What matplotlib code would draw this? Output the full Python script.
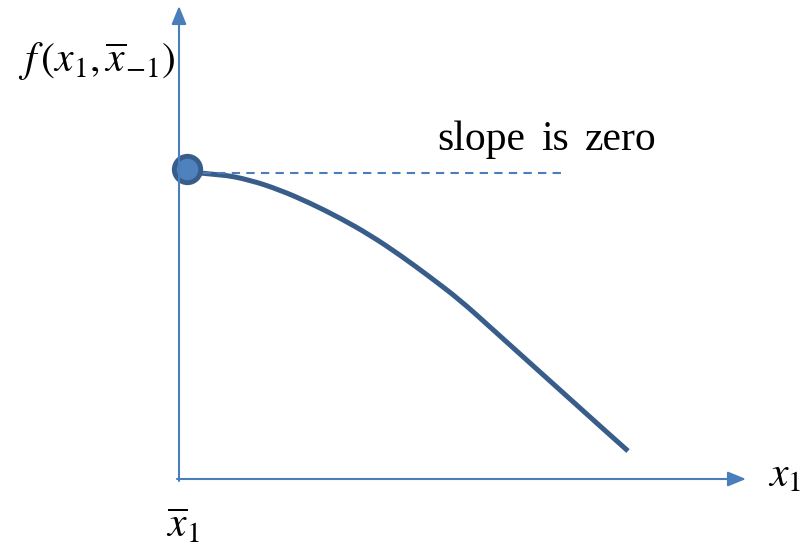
import numpy as np
import matplotlib.pyplot as plt
from matplotlib.path import Path
from matplotlib.patches import PathPatch

plt.rcParams['mathtext.fontset'] = 'stix'
plt.rcParams['font.family'] = ['Liberation Serif', 'DejaVu Serif']

# curve (pixel coordinates, y downwards)
curve_x = [184, 220, 250, 280, 310, 340, 370, 400, 430, 460, 490, 520, 550, 580, 610, 628]
curve_y = [172, 174, 180, 190, 203, 218, 235, 255, 277, 300, 327, 354, 381, 408, 435, 451]
point = (187, 169)
flat_x = [188, 567]
flat_y = [173, 173]

fig = plt.figure(figsize=(8.01, 5.5), dpi=100)
ax = fig.add_axes([0, 0, 1, 1])
ax.set_xlim(0, 801)
ax.set_ylim(550, 0)
ax.axis('off')

axis_col = '#4a7ebb'
line_col = '#385d8a'

# axes with arrow heads
ax.annotate('', xy=(179, 6), xytext=(179, 481),
            arrowprops=dict(arrowstyle='-|>,head_length=1.1,head_width=0.45',
                            color=axis_col, lw=1.5, shrinkA=0, shrinkB=0))
ax.annotate('', xy=(746, 479), xytext=(177, 479),
            arrowprops=dict(arrowstyle='-|>,head_length=1.1,head_width=0.45',
                            color=axis_col, lw=1.5, shrinkA=0, shrinkB=0))

ax.plot(flat_x, flat_y, '--', color=axis_col, lw=1.5, dashes=(4, 3))
ax.plot(*point, 'o', ms=19, mfc='#4f81bd', mec=line_col, mew=3.5)

# smooth curve: quadratic segments through midpoints of the read points
pts = np.column_stack([curve_x, curve_y]).astype(float)
verts = [pts[0]]
codes = [Path.MOVETO]
for i in range(1, len(pts) - 1):
    mid = (pts[i] + pts[i + 1]) / 2 if i < len(pts) - 2 else pts[i + 1]
    verts += [pts[i], mid]
    codes += [Path.CURVE3, Path.CURVE3]
ax.add_patch(PathPatch(Path(verts, codes), fc='none', ec=line_col, lw=3.6,
                       capstyle='butt'))

ax.text(437, 150, 'slope', fontsize=30, ha='left', va='baseline')
ax.text(541, 150, 'is', fontsize=30, ha='left', va='baseline')
ax.text(585, 150, 'zero', fontsize=30, ha='left', va='baseline')
ax.text(18, 72, r'$f\,(x_1,\overline{x}_{-1})$', fontsize=30, ha='left', va='baseline')
ax.text(768, 486, r'$x_1$', fontsize=30, ha='left', va='baseline')
ax.text(166, 537, r'$\overline{x}_1$', fontsize=30, ha='left', va='baseline')

fig.savefig('out.png', dpi=100)
